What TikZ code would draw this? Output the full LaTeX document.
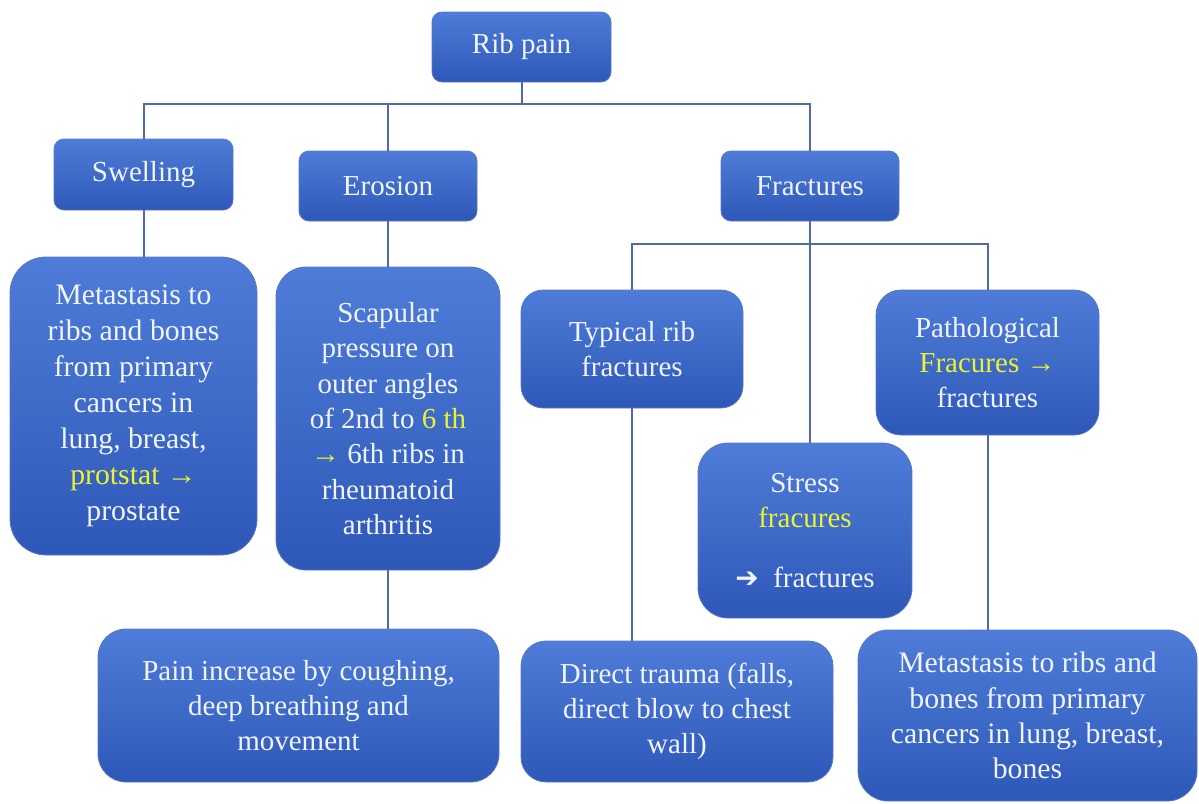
\documentclass[tikz,border=0pt]{standalone}
\usepackage{fontspec}
\setmainfont{Liberation Serif}
\newfontfamily\symfont{DejaVu Sans}
\definecolor{boxtop}{RGB}{78,124,216}
\definecolor{boxbot}{RGB}{46,88,184}
\definecolor{boxedge}{RGB}{90,120,190}
\definecolor{conncol}{RGB}{78,106,170}
\definecolor{txt}{RGB}{240,244,252}
\definecolor{hl}{RGB}{236,242,50}
\tikzset{
  box/.style 2 args={draw=boxedge, line width=0.6pt, top color=boxtop, bottom color=boxbot,
    rounded corners=#2*0.75pt, inner sep=0pt, align=center, text=txt,
    font=\fontsize{21.75pt}{26.5pt}\selectfont, minimum width=#1},
  conn/.style={draw=conncol, line width=1.5pt},
}
\newcommand{\hlt}[1]{{\color{hl}#1}}
\begin{document}
\begin{tikzpicture}[x=0.75pt,y=-0.75pt]
\useasboundingbox (0,0) rectangle (1199,803);
% nodes
\node[box={179*0.75pt}{10}, minimum height=70*0.75pt] (rib) at (521.5,47) {Rib pain};
\node[box={179*0.75pt}{10}, minimum height=71*0.75pt] (swell) at (143.5,174.5) {Swelling};
\node[box={178*0.75pt}{10}, minimum height=70*0.75pt] (eros) at (388,186) {Erosion};
\node[box={178*0.75pt}{10}, minimum height=70*0.75pt] (frac) at (810,186) {Fractures};
\node[box={247*0.75pt}{36}, minimum height=298*0.75pt, font=\fontsize{22.3pt}{27pt}\selectfont] (meta) at (133.5,406)
  {Metastasis to\\ ribs and bones\\ from primary\\ cancers in\\ lung, breast,\\ \hlt{protstat \textrightarrow}\\ prostate};
\node[box={224*0.75pt}{30}, minimum height=303*0.75pt] (scap) at (388,418.5)
  {Scapular\\ pressure on\\ outer angles\\ of 2nd to \hlt{6 th}\\ \hlt{\textrightarrow} 6th ribs in\\ rheumatoid\\ arthritis};
\node[box={401*0.75pt}{28}, minimum height=153*0.75pt] (pain) at (298.5,705.5)
  {Pain increase by coughing,\\ deep breathing and\\ movement};
\node[box={222*0.75pt}{22}, minimum height=118*0.75pt] (typ) at (632,349)
  {Typical rib\\ fractures};
\node[box={214*0.75pt}{30}, minimum height=175*0.75pt] (stress) at (805,530.5)
  {Stress\\ \hlt{fracures}\\[18pt] {\symfont\bfseries\fontsize{21pt}{24pt}\selectfont ➔}\ \ fractures};
\node[box={223*0.75pt}{25}, minimum height=145*0.75pt] (path) at (987.5,362.5)
  {Pathological\\ \hlt{Fracures \textrightarrow}\\ fractures};
\node[box={312*0.75pt}{25}, minimum height=141*0.75pt] (direct) at (677,711.5)
  {Direct trauma (falls,\\ direct blow to chest\\ wall)};
\node[box={339*0.75pt}{30}, minimum height=171*0.75pt, font=\fontsize{22.3pt}{26.5pt}\selectfont] (meta2) at (1027.5,715.5)
  {Metastasis to ribs and\\ bones from primary\\ cancers in lung, breast,\\ bones};
% connectors
\coordinate (bus) at (521.5,104);
\coordinate (bus2) at (810,244);
\draw[conn] (swell.north) |- (bus) -| (frac.north);
\draw[conn] (rib.south) -- (rib.south |- bus);
\draw[conn] (eros.north) -- (eros.north |- bus);
\draw[conn] (swell.south) -- (swell.south |- meta.north);
\draw[conn] (eros.south) -- (eros.south |- scap.north);
\draw[conn] (scap.south) -- (scap.south |- pain.north);
\draw[conn] (frac.south) -- (frac.south |- stress.north);
\draw[conn] (typ.north) |- (bus2) -| (path.north);
\draw[conn] (typ.south) -- (typ.south |- direct.north);
\draw[conn] (path.south) -- (path.south |- meta2.north);
\end{tikzpicture}
\end{document}
